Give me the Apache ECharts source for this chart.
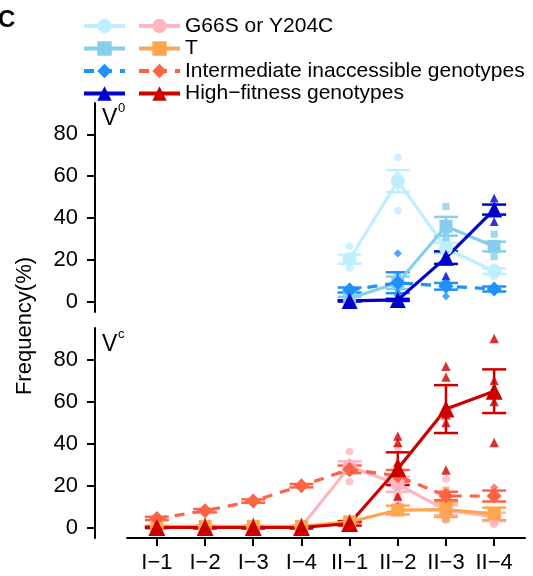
<!DOCTYPE html>
<html>
<head>
<meta charset="utf-8">
<script src="https://cdn.jsdelivr.net/npm/echarts@6/dist/echarts.min.js"></script>
<style>
  html, body { margin: 0; padding: 0; background: #fff; }
  #chart { width: 533px; height: 576px; }
</style>
</head>
<body>
<div id="chart"></div>
<script>
    // categories and tick labels
    const categories = ['I\u22121', 'I\u22122', 'I\u22123', 'I\u22124', 'II\u22121', 'II\u22122', 'II\u22123', 'II\u22124'];
    const yTicks = [0, 20, 40, 60, 80];
    const N = null;

    // V0 panel: means, standard errors, replicates
    const v0G66Mean = [N, N, N, N, 20.3, 57.6, 25.5, 14.5];
    const v0G66Se = [N, N, N, N, 2.2, 5.3, 2.5, 1.3];
    const v0G66Reps = [[], [], [], [], [26.5, 20, 19, 16], [69, 58, 60, 43.5], [25.5, 30, 19.6, 27], [16.5, 14.5, 12, 15]];

    const v0TMean = [N, N, N, N, 1.5, 9, 36, 26.3];
    const v0TSe = [N, N, N, N, 0.8, 3, 4.5, 2.3];
    const v0TReps = [[], [], [], [], [1, 2, 1.5, 1.5], [13, 9, 7, 7], [45.5, 36, 33.5, 29], [32.2, 26, 25.5, 21.5]];

    const v0IntMean = [N, N, N, N, 5.5, 9, 7.3, 6];
    const v0IntSe = [N, N, N, N, 1.2, 5, 1.6, 1.2];
    const v0IntReps = [[], [], [], [], [7, 5, 4.5, 5.5], [23, 6, 4, 3], [8, 9.5, 9.5, 2.5], [6.5, 5, 7, 5.5]];

    const v0HighMean = [N, N, N, N, 0.3, 0.8, 21, 44];
    const v0HighSe = [N, N, N, N, 0.3, 0.5, 3, 2.4];
    const v0HighReps = [[], [], [], [], [0, 0, 0.5, 0.5], [0, 1, 1.5, 0.5], [12.3, 22, 24.5, 25], [49.5, 44, 45, 38.3]];

    // Vc panel
    const vcG66Mean = [0.3, 0.3, 0.3, 0.3, 29, 20.6, 8.3, 5];
    const vcG66Se = [0.2, 0.2, 0.2, 0.2, 2.5, 3.6, 2.4, 2];
    const vcG66Reps = [[0, 0.5, 0.3, 0.4], [0, 0.5, 0.3, 0.4], [0, 0.5, 0.3, 0.4], [0, 0.5, 0.3, 0.4],
        [36.2, 29, 29, 21.8], [37.9, 20, 17, 12.6, 16], [23.1, 6, 3.5, 4, 5], [15.5, 1.6, 3, 2.5, 2.4]];

    const vcTMean = [0.5, 0.5, 0.5, 0.5, 2.7, 8.3, 8.5, 6.5];
    const vcTSe = [0.3, 0.3, 0.3, 0.3, 0.5, 2.1, 3.5, 3];
    const vcTReps = [[1, 0.5, 0.2, 0.3], [1, 0.5, 0.2, 0.3], [1, 0.5, 0.2, 0.3], [1, 0.5, 0.2, 0.3],
        [3, 2.5, 2.5, 3], [10, 8, 7.5, 7.7], [17.8, 7, 5, 4.2], [14.7, 4, 3.5, 3.8]];

    const vcIntMean = [4.3, 8, 12.6, 19.9, 27.7, 24.6, 15, 15];
    const vcIntSe = [0.8, 0.8, 0.8, 0.8, 1.8, 2.8, 2, 2.6];
    const vcIntReps = [[5.5, 4, 3.5, 4.2], [9, 7.5, 7.5, 8], [13.5, 12, 12.5, 12.4], [20.5, 19, 20, 20.1],
        [31, 28, 26, 26], [30, 24, 22, 22.4], [17, 15, 14, 14], [19.1, 17, 17, 6.7]];

    const vcHighMean = [0, 0, 0, 0, 1.9, 28, 56.4, 64.9];
    const vcHighSe = [0.3, 0.5, 0.5, 0.5, 1, 7.8, 11.4, 10.4];
    const vcHighReps = [[1.5, 0, 0, 0], [2.7, 0, 0, 0], [2.5, 0, 0, 0], [2.5, 0, 0, 0],
        [4.3, 1, 1, 1.3], [43.5, 40.5, 31, 15, 10], [76.8, 71.6, 53.7, 50, 27.4], [90, 70, 64, 60, 40.5]];

    const legendText = ['G66S or Y204C', 'T', 'Intermediate inaccessible genotypes', 'High\u2212fitness genotypes'];

    const FONT = 'Liberation Sans, Arial, sans-serif';

    function meanData(m) {
        return m.map((v, i) => [i, v]).filter(d => d[1] !== null);
    }
    function errData(m, se) {
        return m.map((v, i) => [i, v - se[i], v + se[i]]).filter(d => m[d[0]] !== null);
    }
    function repData(reps) {
        let out = [];
        reps.forEach((r, i) => r.forEach(v => out.push([i, v])));
        return out;
    }
    function errRender(params, api) {
        const x = api.value(0);
        const p1 = api.coord([x, api.value(2)]);
        const p2 = api.coord([x, api.value(1)]);
        const hw = 12;
        const style = { stroke: api.visual('color'), lineWidth: 2.5 };
        return {
            type: 'group',
            children: [
                { type: 'line', shape: { x1: p1[0], y1: p1[1], x2: p2[0], y2: p2[1] }, style: style },
                { type: 'line', shape: { x1: p1[0] - hw, y1: p1[1], x2: p1[0] + hw, y2: p1[1] }, style: style },
                { type: 'line', shape: { x1: p2[0] - hw, y1: p2[1], x2: p2[0] + hw, y2: p2[1] }, style: style },
            ]
        };
    }

    // one group = replicates + error bars + mean line
    function group(name, panel, mean, se, reps, color, symbol, size, dashed) {
        return [
            {
                type: 'scatter', xAxisIndex: panel, yAxisIndex: panel,
                symbol: symbol, symbolSize: size * 0.55,
                itemStyle: { color: color }, data: repData(reps), z: 2, silent: true,
            },
            {
                type: 'custom', xAxisIndex: panel, yAxisIndex: panel,
                renderItem: errRender, itemStyle: { color: color },
                data: errData(mean, se), z: 3, silent: true,
            },
            {
                name: name, type: 'line', xAxisIndex: panel, yAxisIndex: panel,
                symbol: symbol, symbolSize: size,
                itemStyle: { color: color },
                lineStyle: { color: color, width: 3.2, type: dashed ? [10, 8] : 'solid' },
                data: meanData(mean), z: 4,
            },
        ];
    }

    const series = [].concat(
        group('b1', 0, v0G66Mean, v0G66Se, v0G66Reps, '#BFEFFF', 'circle', 14, false),
        group('b2', 0, v0TMean, v0TSe, v0TReps, '#87CEEB', 'rect', 13, false),
        group('b3', 0, v0IntMean, v0IntSe, v0IntReps, '#1E90FF', 'diamond', 15, true),
        group('b4', 0, v0HighMean, v0HighSe, v0HighReps, '#0000CD', 'triangle', 16, false),
        group(legendText[0], 1, vcG66Mean, vcG66Se, vcG66Reps, '#FFB6C1', 'circle', 14, false),
        group(legendText[1], 1, vcTMean, vcTSe, vcTReps, '#FFA54F', 'rect', 13, false),
        group(legendText[2], 1, vcIntMean, vcIntSe, vcIntReps, '#FF6347', 'diamond', 15, true),
        group(legendText[3], 1, vcHighMean, vcHighSe, vcHighReps, '#CD0000', 'triangle', 17, false)
    );

    const xIdx = categories.map((c, i) => i);

    function yAxis(panel) {
        return {
            type: 'value', gridIndex: panel, min: -5, max: 95, offset: 32,
            axisLine: { show: true, onZero: false, lineStyle: { color: '#000', width: 2 } },
            axisTick: { show: true, customValues: yTicks, length: 8, lineStyle: { color: '#000', width: 2 } },
            axisLabel: { customValues: yTicks, margin: 17, fontSize: 22, color: '#000', fontFamily: FONT },
            splitLine: { show: false },
        };
    }

    const legendBase = {
        orient: 'vertical', top: 10, itemWidth: 41, itemHeight: 18, itemGap: 0.5,
        textStyle: { fontSize: 21, lineHeight: 22, color: '#000', fontFamily: FONT },
        lineStyle: { width: 4 },
        selectedMode: false,
    };

    const option = {
        animation: false,
        backgroundColor: '#fff',
        textStyle: { fontFamily: FONT },
        grid: [
            { left: 127, right: 8, top: 103, height: 209 },
            { left: 127, right: 8, top: 328, height: 210 },
        ],
        xAxis: [
            { type: 'value', gridIndex: 0, min: -0.62, max: 7.64, show: false },
            {
                type: 'value', gridIndex: 1, min: -0.62, max: 7.64,
                axisLine: { show: true, onZero: false, lineStyle: { color: '#000', width: 2 } },
                axisTick: { show: true, customValues: xIdx, length: 8, lineStyle: { color: '#000', width: 2 } },
                axisLabel: {
                    customValues: xIdx, margin: 14, fontSize: 22, color: '#000', fontFamily: FONT,
                    formatter: v => categories[Math.round(v)],
                },
                splitLine: { show: false },
            },
        ],
        yAxis: [yAxis(0), yAxis(1)],
        legend: [
            Object.assign({}, legendBase, { left: 77, data: ['b1', 'b2', 'b3', 'b4'], formatter: () => ' ' }),
            Object.assign({}, legendBase, { left: 132, data: legendText }),
        ],
        graphic: [
            { type: 'text', left: -2, top: 8, style: { text: 'C', fontSize: 24, fontWeight: 'bold', fill: '#000', fontFamily: FONT } },
            {
                type: 'text', x: 14, y: 326, rotation: Math.PI / 2,
                style: { text: 'Frequency(%)', fontSize: 22, fill: '#000', fontFamily: FONT, align: 'center', verticalAlign: 'top' },
            },
            { type: 'text', left: 102, top: 107, style: { text: 'V', fontSize: 23, fill: '#000', fontFamily: FONT } },
            { type: 'text', left: 118, top: 102, style: { text: '0', fontSize: 13, fill: '#000', fontFamily: FONT } },
            { type: 'text', left: 102, top: 333, style: { text: 'V', fontSize: 23, fill: '#000', fontFamily: FONT } },
            { type: 'text', left: 118, top: 328, style: { text: 'c', fontSize: 13, fill: '#000', fontFamily: FONT } },
        ],
        series: series,
    };

    let myChart = echarts.init(document.getElementById('chart'));
    myChart.setOption(option);
</script>
</body>
</html>
